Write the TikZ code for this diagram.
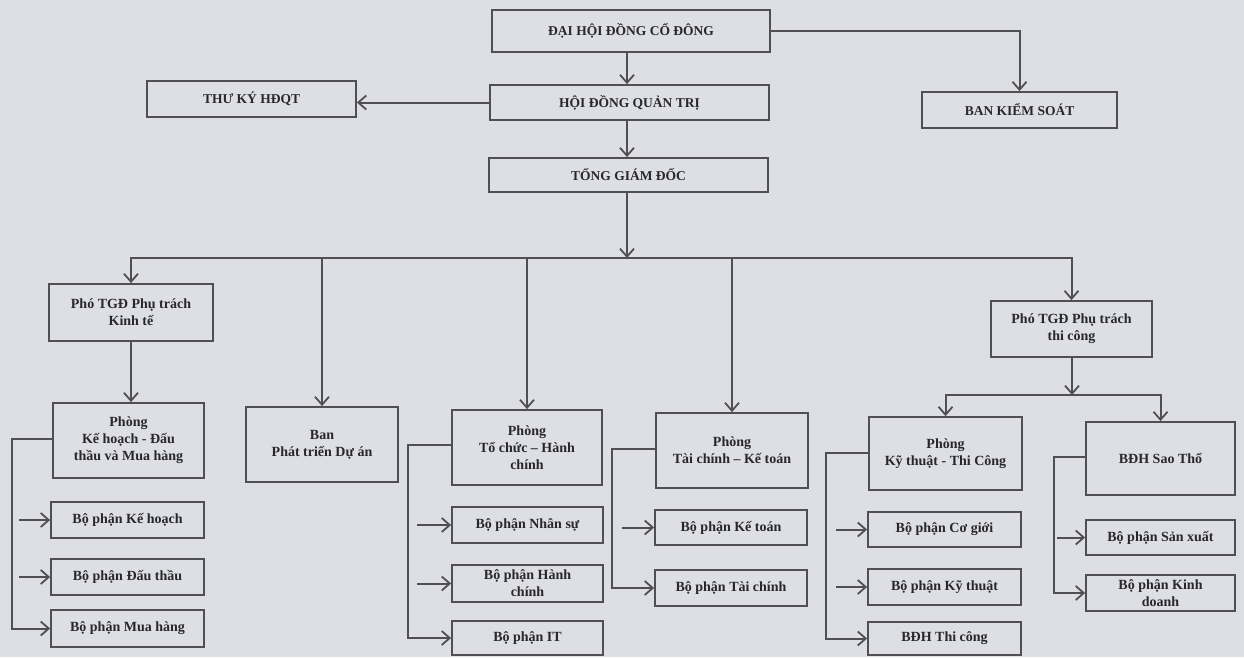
\documentclass[tikz,border=0pt]{standalone}
\usepackage{fontspec}
\setmainfont{Liberation Serif}
\usetikzlibrary{arrows.meta}
\definecolor{bg}{RGB}{222,223,228}
\definecolor{linec}{RGB}{80,80,82}
\definecolor{txt}{RGB}{40,40,42}
\tikzset{
  box/.style={draw=linec, line width=1.8pt, fill=bg, inner sep=1pt, align=center, text=txt,
    font=\bfseries\fontsize{14}{17}\selectfont},
  topbox/.style={box, font=\bfseries\fontsize{13.5}{16}\selectfont},
  conn/.style={draw=linec, line width=2pt},
  arr/.style={conn, -{Straight Barb[length=8pt,width=14pt,line width=1.8pt]}},
}
\newcommand{\bx}[6]{\node[#1, minimum width=#4pt, minimum height=#5pt] (#2) at (#3) {#6};}
\begin{document}
\begin{tikzpicture}[x=1pt,y=-1pt]
\fill[bg] (0,0) rectangle (1244,657);
\useasboundingbox (0,0) rectangle (1244,657);
% top level
\bx{topbox}{dh}{631,31}{278}{42}{ĐẠI HỘI ĐỒNG CỔ ĐÔNG}
\bx{topbox}{hd}{629.5,102.5}{279}{35}{HỘI ĐỒNG QUẢN TRỊ}
\bx{topbox}{tg}{628.5,175}{279}{34}{TỔNG GIÁM ĐỐC}
\bx{topbox}{tk}{251.5,99}{209}{36}{THƯ KÝ HĐQT}
\bx{topbox}{bks}{1019.5,110}{195}{36}{BAN KIỂM SOÁT}
% second level
\bx{box}{pk}{131,312.5}{164}{57}{Phó TGĐ Phụ trách\\Kinh tế}
\bx{box}{ban}{322,444.5}{152}{75}{Ban\\Phát triển Dự án}
\bx{box}{tc}{527,447.5}{150}{75}{Phòng\\Tổ chức – Hành\\chính}
\bx{box}{tck}{732,450.5}{152}{75}{Phòng\\Tài chính – Kế toán}
\bx{box}{pt}{1071.5,329}{161}{56}{Phó TGĐ Phụ trách\\thi công}
\bx{box}{kh}{128.5,440.5}{151}{75}{Phòng\\Kế hoạch - Đấu\\thầu và Mua hàng}
\bx{box}{kt}{945.5,453.5}{153}{73}{Phòng\\Kỹ thuật - Thi Công}
\bx{box}{st}{1160.5,458.5}{149}{73}{BĐH Sao Thổ}
% sub units
\bx{box}{b1}{127.5,520}{153}{36}{Bộ phận Kế hoạch}
\bx{box}{b2}{127.5,577}{153}{36}{Bộ phận Đấu thầu}
\bx{box}{b3}{127.5,628.5}{153}{37}{Bộ phận Mua hàng}
\bx{box}{b4}{527.5,525}{151}{36}{Bộ phận Nhân sự}
\bx{box}{b5}{527.5,583.5}{151}{37}{Bộ phận Hành\\chính}
\bx{box}{b6}{527.5,638}{151}{34}{Bộ phận IT}
\bx{box}{b7}{731,527.5}{152}{35}{Bộ phận Kế toán}
\bx{box}{b8}{731,588}{152}{36}{Bộ phận Tài chính}
\bx{box}{b9}{944.5,529.5}{153}{35}{Bộ phận Cơ giới}
\bx{box}{b10}{944.5,587}{153}{36}{Bộ phận Kỹ thuật}
\bx{box}{b11}{944.5,638.5}{153}{33}{BĐH Thi công}
\bx{box}{b12}{1160.5,537.5}{149}{35}{Bộ phận Sản xuất}
\bx{box}{b13}{1160.5,593}{149}{36}{Bộ phận Kinh\\doanh}
% top connectors
\coordinate (col) at (627,0);
\draw[arr] (dh.south -| col) -- (hd.north -| col);
\draw[arr] (hd.south -| col) -- (tg.north -| col);
\draw[arr] (hd.west) -- (hd.west -| tk.east);
\draw[arr] (dh.east) -| (bks.north);
% main bus
\coordinate (busc) at (627,258);
\draw[arr] (tg.south -| busc) -- (busc);
\draw[arr] (busc) -| (pk.north);
\draw[arr] (busc) -| (pt.north);
\draw[arr] (ban.north |- busc) -- (ban.north);
\draw[arr] (tc.north |- busc) -- (tc.north);
\draw[arr] (tck.north |- busc) -- (tck.north);
% branch below deputies
\draw[arr] (pk.south) -- (pk.south |- kh.north);
\coordinate (sb) at (1072,395);
\draw[arr] (pt.south -| sb) -- (sb);
\draw[arr] (sb) -| (kt.north);
\draw[arr] (sb) -| (st.north);
% sub columns
\draw[arr] (kh.west |- 0,439) -- ++(-40,0) |- (b3.west);
\draw[arr] ([xshift=-31pt]b1.west) -- (b1.west);
\draw[arr] ([xshift=-31pt]b2.west) -- (b2.west);
\draw[arr] (tc.west |- 0,445) -- ++(-43,0) |- (b6.west);
\draw[arr] ([xshift=-34pt]b4.west) -- (b4.west);
\draw[arr] ([xshift=-34pt]b5.west) -- (b5.west);
\draw[arr] (tck.west |- 0,449) -- ++(-43,0) |- (b8.west);
\draw[arr] ([xshift=-32pt]b7.west) -- (b7.west);
\draw[arr] (kt.west |- 0,453) -- ++(-42,0) |- (b11.west);
\draw[arr] ([xshift=-31pt]b9.west) -- (b9.west);
\draw[arr] ([xshift=-31pt]b10.west) -- (b10.west);
\draw[arr] (st.west |- 0,457) -- ++(-31,0) |- (b13.west);
\draw[arr] ([xshift=-28pt]b12.west) -- (b12.west);
\end{tikzpicture}
\end{document}
